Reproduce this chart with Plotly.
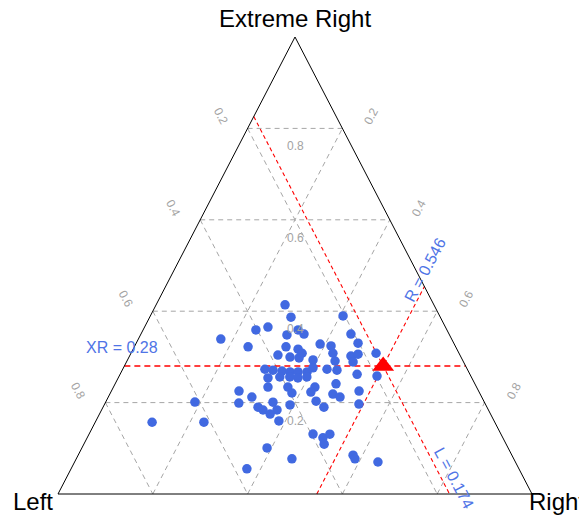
import plotly.graph_objects as go

# ---- data (ternary compositions: Left, Right, Extreme Right) ----
left_vals = [0.314, 0.315, 0.204, 0.403, 0.374, 0.343, 0.314, 0.306, 0.487, 0.207,
             0.202, 0.438, 0.358, 0.335, 0.283, 0.262, 0.266, 0.384, 0.361, 0.343,
             0.331, 0.315, 0.270, 0.231, 0.214, 0.233, 0.175, 0.427, 0.411, 0.393,
             0.377, 0.360, 0.341, 0.324, 0.296, 0.276, 0.238, 0.198, 0.430, 0.404,
             0.383, 0.367, 0.347, 0.440, 0.398, 0.396, 0.341, 0.355, 0.293, 0.311,
             0.299, 0.252, 0.267, 0.354, 0.505, 0.485, 0.519, 0.483, 0.476, 0.446,
             0.446, 0.465, 0.413, 0.344, 0.610, 0.723, 0.613, 0.454, 0.396, 0.380,
             0.361, 0.384, 0.509, 0.468, 0.335, 0.335, 0.290, 0.574]
right_vals = [0.272, 0.298, 0.407, 0.238, 0.260, 0.309, 0.327, 0.344, 0.174, 0.443,
              0.468, 0.240, 0.320, 0.348, 0.389, 0.414, 0.426, 0.312, 0.340, 0.360,
              0.361, 0.391, 0.439, 0.467, 0.480, 0.478, 0.517, 0.300, 0.318, 0.338,
              0.356, 0.373, 0.392, 0.400, 0.431, 0.453, 0.500, 0.544, 0.316, 0.340,
              0.361, 0.379, 0.397, 0.326, 0.368, 0.383, 0.425, 0.422, 0.466, 0.471,
              0.489, 0.522, 0.537, 0.443, 0.269, 0.303, 0.282, 0.327, 0.341, 0.353,
              0.370, 0.360, 0.392, 0.466, 0.188, 0.120, 0.229, 0.386, 0.472, 0.498,
              0.508, 0.507, 0.391, 0.455, 0.580, 0.588, 0.640, 0.371]
xr_vals = [0.414, 0.387, 0.390, 0.359, 0.365, 0.348, 0.359, 0.350, 0.339, 0.350,
           0.330, 0.322, 0.322, 0.317, 0.328, 0.324, 0.308, 0.304, 0.300, 0.298,
           0.308, 0.293, 0.291, 0.302, 0.306, 0.289, 0.308, 0.273, 0.271, 0.269,
           0.267, 0.267, 0.267, 0.276, 0.273, 0.271, 0.262, 0.258, 0.254, 0.256,
           0.256, 0.254, 0.256, 0.234, 0.234, 0.221, 0.234, 0.223, 0.241, 0.219,
           0.212, 0.225, 0.197, 0.203, 0.225, 0.212, 0.199, 0.190, 0.184, 0.201,
           0.184, 0.175, 0.195, 0.190, 0.201, 0.157, 0.157, 0.160, 0.131, 0.123,
           0.131, 0.109, 0.101, 0.077, 0.085, 0.077, 0.070, 0.055]

grid_ticks = [0.2, 0.4, 0.6, 0.8]
grid_tick_labels = ["0.2", "0.4", "0.6", "0.8"]

highlight_L = 0.174
highlight_R = 0.546
highlight_XR = 0.28

corner_names = ["Left", "Right", "Extreme Right"]

BLUE = "#4169E1"
LABEL_BLUE = "#4f74e6"
GRID = "#a6a6a6"
TICK_COL = "#a3a3a3"
FONT = "Liberation Sans, Arial, sans-serif"


def proj(l, r, xr):
    s = l + r + xr
    r, xr = r / s, xr / s
    return r + xr / 2.0, xr


def seg_xy(segments):
    xs, ys = [], []
    for a, b in segments:
        x0, y0 = proj(*a)
        x1, y1 = proj(*b)
        xs += [x0, x1, None]
        ys += [y0, y1, None]
    return xs, ys


fig = go.Figure()

# grey dashed grid
grid_segments = []
for v in grid_ticks:
    grid_segments.append(((1 - v, 0, v), (0, 1 - v, v)))      # constant XR
    grid_segments.append(((v, 0, 1 - v), (v, 1 - v, 0)))      # constant L
    grid_segments.append(((1 - v, v, 0), (0, v, 1 - v)))      # constant R
gx, gy = seg_xy(grid_segments)
fig.add_trace(go.Scatter(x=gx, y=gy, mode="lines", hoverinfo="skip",
                         line=dict(color=GRID, width=1, dash="5px,4px")))

# red dashed reference lines
red_segments = [
    ((1 - highlight_XR, 0, highlight_XR), (0, 1 - highlight_XR, highlight_XR)),
    ((highlight_L, 0, 1 - highlight_L), (highlight_L, 1 - highlight_L, 0)),
    ((1 - highlight_R, highlight_R, 0), (0, highlight_R, 1 - highlight_R)),
]
for i, seg in enumerate(red_segments):
    rx, ry = seg_xy([seg])
    fig.add_trace(go.Scatter(x=rx, y=ry, mode="lines", hoverinfo="skip",
                             line=dict(color="red", width=1.5 if i == 0 else 1.1,
                                       dash="6px,4px" if i == 0 else "4px,3px")))

# triangle outline
tri = [(1, 0, 0), (0, 1, 0), (0, 0, 1), (1, 0, 0)]
tx = [proj(*p)[0] for p in tri]
ty = [proj(*p)[1] for p in tri]
fig.add_trace(go.Scatter(x=tx, y=ty, mode="lines", hoverinfo="skip",
                         line=dict(color="black", width=1)))

# blue data points
px = [proj(l, r, x)[0] for l, r, x in zip(left_vals, right_vals, xr_vals)]
py = [proj(l, r, x)[1] for l, r, x in zip(left_vals, right_vals, xr_vals)]
fig.add_trace(go.Scatter(x=px, y=py, mode="markers",
                         marker=dict(color=BLUE, size=9.5, line=dict(width=0))))

# red triangle
hx, hy = proj(highlight_L, highlight_R, highlight_XR)
fig.add_trace(go.Scatter(x=[hx], y=[hy], mode="markers",
                         marker=dict(symbol="triangle-up", color="red", size=19,
                                     line=dict(width=0))))

annotations = []
# tick labels
for v, t in zip(grid_ticks, grid_tick_labels):
    lx, ly = proj(v, 0, 1 - v)
    annotations.append(dict(x=lx, y=ly, text=t, xshift=-27, yshift=12, textangle=62,
                            font=dict(color=TICK_COL, size=12, family=FONT)))
    rx_, ry_ = proj(0, v, 1 - v)
    annotations.append(dict(x=rx_, y=ry_, text=t, xshift=29, yshift=12, textangle=-62,
                            font=dict(color=TICK_COL, size=12, family=FONT)))
    cx, cy = proj((1 - v) / 2, (1 - v) / 2, v)
    annotations.append(dict(x=cx, y=cy, text=t, yshift=-18,
                            font=dict(color=TICK_COL, size=12, family=FONT)))

# corner labels
lx, ly = proj(1, 0, 0)
annotations.append(dict(x=lx, y=ly, text=corner_names[0], xshift=-25, yshift=-7,
                        font=dict(color="black", size=24, family=FONT)))
rx_, ry_ = proj(0, 1, 0)
annotations.append(dict(x=rx_, y=ry_, text=corner_names[1], xshift=25, yshift=-7,
                        font=dict(color="black", size=24, family=FONT)))
tx_, ty_ = proj(0, 0, 1)
annotations.append(dict(x=tx_, y=ty_, text=corner_names[2], yshift=19,
                        font=dict(color="black", size=24, family=FONT)))

# highlight labels
ax, ay = proj(1 - highlight_XR, 0, highlight_XR)
annotations.append(dict(x=ax, y=ay, text=f"XR = {highlight_XR}", xshift=-2, yshift=19,
                        font=dict(color=LABEL_BLUE, size=16, family=FONT)))
bx, by = proj(0, highlight_R, 1 - highlight_R)
annotations.append(dict(x=bx, y=by, text=f"R = {highlight_R}", xshift=1, yshift=17,
                        textangle=-62, font=dict(color=LABEL_BLUE, size=16, family=FONT)))
cx, cy = proj(highlight_L, 1 - highlight_L, 0)
annotations.append(dict(x=cx, y=cy, text=f"L = {highlight_L}", xshift=5, yshift=16,
                        textangle=62, font=dict(color=LABEL_BLUE, size=16, family=FONT)))

for a in annotations:
    a.update(xref="x", yref="y", showarrow=False)

# page body has an 8px margin: the figure occupies page pixels 8..587 x 8..517
fig.update_layout(
    width=579, height=509,
    margin=dict(l=0, r=0, t=0, b=0),
    paper_bgcolor="white", plot_bgcolor="white",
    showlegend=False,
    xaxis=dict(range=[-0.10549, 1.11603], visible=False, fixedrange=True),
    yaxis=dict(range=[-0.05033, 1.06346], visible=False, fixedrange=True),
    annotations=annotations,
)

fig.write_html("out.html")
